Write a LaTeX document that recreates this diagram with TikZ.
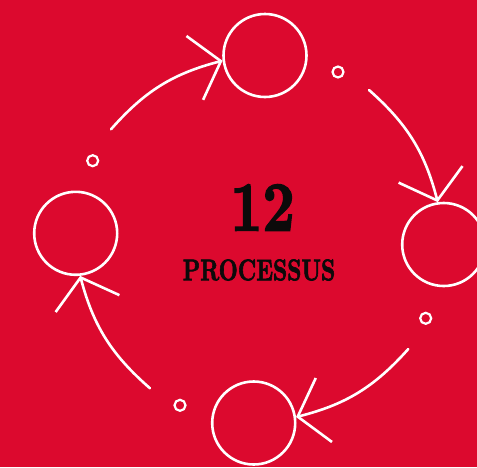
\documentclass[tikz,border=0pt]{standalone}
\usepackage{tikz}
\usepackage{fontspec}
\usetikzlibrary{arrows.meta, positioning}
\newfontfamily\heavyserif{lmroman10-bold}[Extension=.otf, FakeBold=2.5]
\definecolor{cycleBg}{RGB}{220, 9, 46}
\definecolor{cycleLine}{RGB}{255, 255, 255}
\definecolor{cycleText}{RGB}{12, 10, 10}

\begin{document}
\begin{tikzpicture}[
    x=1pt, y=-1pt,
    bigRing/.style={circle, draw=cycleLine, line width=2.6pt, minimum size=83pt, inner sep=0pt},
    dotRing/.style={circle, draw=cycleLine, line width=2.2pt, minimum size=11pt, inner sep=0pt},
    flowArrow/.style={-{Straight Barb[length=27pt, width=66pt]}, draw=cycleLine, line width=2.6pt, line cap=round, bend left=17}
]

    % Background
    \useasboundingbox (0,0) rectangle (477,467);
    \clip (0,0) rectangle (477,467);
    \fill[cycleBg] (0,0) rectangle (477,467);

    % Nodes
    \node[bigRing] (topRing) at (265,55.5) {};
    \node[bigRing] (rightRing) at (443.7,244.5) {};
    \node[bigRing] (bottomRing) at (253.7,423) {};
    \node[bigRing] (leftRing) at (75.7,233.3) {};

    \node[dotRing] (dotNE) at (338,72) {};
    \node[dotRing] (dotNW) at (92.7,160.7) {};
    \node[dotRing] (dotSE) at (425.7,318.3) {};
    \node[dotRing] (dotSW) at (180,405.3) {};

    \node[text=cycleText, font=\heavyserif\fontsize{70}{70}\selectfont] (count) at (262.5,207.5) {\scalebox{0.8}[1]{12}};
    \node[text=cycleText, font=\heavyserif\fontsize{30}{30}\selectfont] (title) at (259,270) {\scalebox{0.74}[1]{PROCESSUS}};

    % Arrows
    \coordinate (fromNW) at (111,129.3);
    \coordinate (fromNE) at (369,90);
    \coordinate (fromSE) at (408.3,349);
    \coordinate (fromSW) at (150,388.3);

    \draw[flowArrow] (fromNW) to (topRing.187);
    \draw[flowArrow] (fromNE) to (rightRing.98);
    \draw[flowArrow] (fromSE) to (bottomRing.8);
    \draw[flowArrow] (fromSW) to (leftRing.276);

\end{tikzpicture}
\end{document}
